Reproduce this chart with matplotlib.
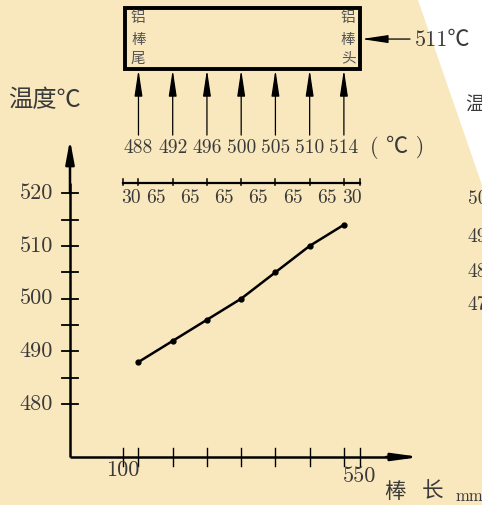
import numpy as np
import matplotlib
matplotlib.use("Agg")
import matplotlib.pyplot as plt
from matplotlib.patches import Rectangle, Polygon

# data
segments = [30, 65, 65, 65, 65, 65, 65, 30]          # mm, rod sections
start = 100                                           # mm, rod tail
temps = [488, 492, 496, 500, 505, 510, 514]           # deg C at each thermocouple
head_temp = 511
yticks_major = [480, 490, 500, 510, 520]
yticks_minor = [485, 495, 505, 515]
xtick_labels = [100, 550]
side_labels = ["500", "490", "480", "470"]

edges = start + np.concatenate([[0], np.cumsum(segments)])   # 100 ... 550
pos = edges[1:-1]                                            # 130 ... 520
mids = (edges[:-1] + edges[1:]) / 2

BG = "#f9e8be"
TXT = "#3a3a3a"
NUM = ["cmr10", "Noto Sans CJK SC"]
CJK = ["Noto Sans CJK SC", "DejaVu Sans"]

fig = plt.figure(figsize=(4.82, 5.05), dpi=100, facecolor=BG)
ax = fig.add_axes([0, 0, 1, 1])
ax.set_xlim(-132.9, 782.2)
ax.set_ylim(460.9, 556.6)
ax.axis("off")
ax.set_zorder(1)

# white page corner top right
fig.patches.append(Polygon([(418 / 482, 1), (1, 1), (1, 1 - 185 / 505)],
                           closed=True, transform=fig.transFigure,
                           facecolor="white", edgecolor="none", zorder=0))


def arrow(x0, y0, x1, y1, hl, hw, lw=1.0):
    ax.annotate("", xy=(x1, y1), xytext=(x0, y0),
                arrowprops=dict(arrowstyle=f"-|>,head_length={hl},head_width={hw}",
                                mutation_scale=1, lw=lw, color="k",
                                shrinkA=0, shrinkB=0))


# ---- main chart axes
ax.plot([0, 0], [470, 522], color="k", lw=1.8, solid_capstyle="butt")
arrow(0, 520, 0, 530.1, 14, 2.6, lw=1.8)
ax.plot([0, 640], [470, 470], color="k", lw=1.8, solid_capstyle="butt")
arrow(600, 470, 664.5, 470, 16, 2.2, lw=1.8)

for t in yticks_major + yticks_minor:
    ax.plot([-15.2, 15.2], [t, t], color="k", lw=1.3)
for t in yticks_major:
    ax.text(-32.3, t, str(t), ha="right", va="center", fontsize=16,
            family=NUM, color=TXT)

for x in edges:
    ax.plot([x, x], [468.3, 471.7], color="k", lw=1.0)
ax.text(100, 467.5, "100", ha="center", va="center", fontsize=16, family=NUM, color=TXT)
ax.text(550, 466.4, "550", ha="center", va="center", fontsize=16, family=NUM, color=TXT)

ax.plot(pos, temps, color="k", lw=1.8, marker="o", ms=3.5)

ax.text(-118.5, 537.7, "温度℃", ha="left", va="center", fontsize=17.5,
        family=CJK, color=TXT, fontweight="light")
ax.text(617, 463.4, "棒", ha="center", va="center", fontsize=15.5, family=CJK,
        color=TXT, fontweight="light")
ax.text(689, 463.4, "长", ha="center", va="center", fontsize=15.5, family=CJK,
        color=TXT, fontweight="light")
ax.text(758.5, 462.6, "mm", ha="center", va="center", fontsize=12, family=NUM, color=TXT)

# ---- rod schematic
ax.add_patch(Rectangle((104, 543.6), 447, 11.4, fill=False, lw=2.8, edgecolor="k"))
for i, ch in enumerate("铝棒尾"):
    ax.text(129.7, [553.2, 549.1, 545.5][i], ch, ha="center", va="center",
            fontsize=10.5, family=CJK, color="#555555")
for i, ch in enumerate("铝棒头"):
    ax.text(527.8, [553.2, 549.1, 545.5][i], ch, ha="center", va="center",
            fontsize=10.5, family=CJK, color="#555555")

for x, t in zip(pos, temps):
    arrow(x, 531.0, x, 543.4, 16, 2.4, lw=0.9)
    ax.text(x, 528.6, str(t), ha="center", va="center", fontsize=14,
            family=NUM, color=TXT)
ax.text(621, 528.6, "( ℃ )", ha="center", va="center", fontsize=16,
        family=NUM, color=TXT)

arrow(645.5, 549.2, 553.5, 549.2, 16, 2.4, lw=0.9)
ax.text(655, 548.9, f"{head_temp}℃", ha="left", va="center", fontsize=16,
        family=NUM, color=TXT)

# ruler of section lengths
ax.plot([edges[0], edges[-1]], [521.9, 521.9], color="k", lw=1.6)
for x in edges:
    ax.plot([x, x], [521.6, 522.7], color="k", lw=1.1)
for m, s in zip(mids, segments):
    ax.text(m, 519.1, str(s), ha="center", va="center", fontsize=14,
            family=NUM, color=TXT)

# bits of the neighbouring figure cut by the page edge
ax.text(750, 536.7, "温", ha="left", va="center", fontsize=14, family=CJK,
        color=TXT, fontweight="light")
for s, t in zip(side_labels, [518.8, 511.7, 505.1, 498.8]):
    ax.text(755.6, t, s, ha="left", va="center", fontsize=14, family=NUM, color=TXT)

fig.savefig("out.png", dpi=100, facecolor=BG)
